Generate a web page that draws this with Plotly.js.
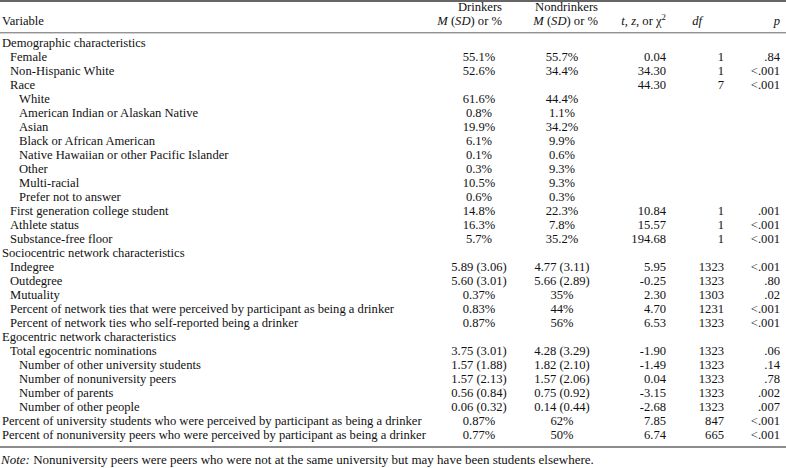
<!DOCTYPE html>
<html>
<head>
<meta charset="utf-8">
<script src="https://cdn.plot.ly/plotly-3.0.1.min.js"></script>
<style>
html,body{margin:0;padding:0;background:#fff;}
#chart{width:786px;height:468px;}
</style>
</head>
<body>
<div id="chart"></div>
<script>
// ---- Table data ----
var variables = [
  "Demographic characteristics",
  "Female",
  "Non-Hispanic White",
  "Race",
  "White",
  "American Indian or Alaskan Native",
  "Asian",
  "Black or African American",
  "Native Hawaiian or other Pacific Islander",
  "Other",
  "Multi-racial",
  "Prefer not to answer",
  "First generation college student",
  "Athlete status",
  "Substance-free floor",
  "Sociocentric network characteristics",
  "Indegree",
  "Outdegree",
  "Mutuality",
  "Percent of network ties that were perceived by participant as being a drinker",
  "Percent of network ties who self-reported being a drinker",
  "Egocentric network characteristics",
  "Total egocentric nominations",
  "Number of other university students",
  "Number of nonuniversity peers",
  "Number of parents",
  "Number of other people",
  "Percent of university students who were perceived by participant as being a drinker",
  "Percent of nonuniversity peers who were perceived by participant as being a drinker"
];
var levels = [0,1,1,1,2,2,2,2,2,2,2,2,1,1,1,0,1,1,1,1,1,0,1,2,2,2,2,0,0];
var drinkers = ["","55.1%","52.6%","","61.6%","0.8%","19.9%","6.1%","0.1%","0.3%","10.5%","0.6%",
  "14.8%","16.3%","5.7%","","5.89 (3.06)","5.60 (3.01)","0.37%","0.83%","0.87%","",
  "3.75 (3.01)","1.57 (1.88)","1.57 (2.13)","0.56 (0.84)","0.06 (0.32)","0.87%","0.77%"];
var nondrinkers = ["","55.7%","34.4%","","44.4%","1.1%","34.2%","9.9%","0.6%","9.3%","9.3%","0.3%",
  "22.3%","7.8%","35.2%","","4.77 (3.11)","5.66 (2.89)","35%","44%","56%","",
  "4.28 (3.29)","1.82 (2.10)","1.57 (2.06)","0.75 (0.92)","0.14 (0.44)","62%","50%"];
var stats = ["","0.04","34.30","44.30","","","","","","","","",
  "10.84","15.57","194.68","","5.95","-0.25","2.30","4.70","6.53","",
  "-1.90","-1.49","0.04","-3.15","-2.68","7.85","6.74"];
var dfs = ["","1","1","7","","","","","","","","",
  "1","1","1","","1323","1323","1303","1231","1323","",
  "1323","1323","1323","1323","1323","847","665"];
var pvals = ["",".84","<.001","<.001","","","","","","","","",
  ".001","<.001","<.001","","<.001",".80",".02","<.001","<.001","",
  ".06",".14",".78",".002",".007","<.001","<.001"];
var headers1 = ["Drinkers","Nondrinkers"];
var headers2 = ["Variable","<i>M</i> (<i>SD</i>) or %","<i>M</i> (<i>SD</i>) or %",
  "<i>t</i>, <i>z</i>, or χ<sup>2</sup>","<i>df</i>","<i>p</i>"];
var noteText = "<i>Note:</i> Nonuniversity peers were peers who were not at the same university but may have been students elsewhere.";

// ---- Layout helpers ----
var FONT = {family: "Liberation Serif, Times New Roman, serif", size: 12.6, color: "#111"};
var NOTEFONT = {family: "Liberation Serif, Times New Roman, serif", size: 13, color: "#111"};
var indent = [2, 10, 19];
var colX = {drink: 479, nondrink: 562, stat: 666, df: 724, p: 780};
var hdrX = {drink: 502, nondrink: 598};
function esc(s){ return s.replace(/</g, "&lt;"); }
var rows = variables.map(function(_, i){ return i; });

function textTrace(xs, ys, texts, pos, font){
  return {
    type: "scatter", mode: "text", x: xs, y: ys, text: texts,
    textposition: pos, textfont: font || FONT, hoverinfo: "skip",
    showlegend: false, cliponaxis: false
  };
}
function col(arr, x, pos){
  var xs = [], ys = [], ts = [];
  arr.forEach(function(v, i){ if (v !== "") { xs.push(x); ys.push(i); ts.push(esc(v)); } });
  return textTrace(xs, ys, ts, pos);
}

var traces = [];
traces.push(textTrace(levels.map(function(l){ return indent[l]; }), rows, variables, "middle right"));
traces.push(col(drinkers, colX.drink, "middle center"));
traces.push(col(nondrinkers, colX.nondrink, "middle center"));
traces.push(col(stats, colX.stat, "middle left"));
traces.push(col(dfs, colX.df, "middle left"));
traces.push(col(pvals, colX.p, "middle left"));

// header
var h1y = -2.57, h2y = -1.57;
traces.push(textTrace([hdrX.drink, hdrX.nondrink], [h1y, h1y], headers1, "middle left"));
traces.push(textTrace([indent[0]], [h2y], [headers2[0]], "middle right"));
traces.push(textTrace([hdrX.drink, hdrX.nondrink, colX.stat, colX.df - 22, colX.p],
  [h2y, h2y, h2y, h2y, h2y], headers2.slice(1), "middle left"));
// note
traces.push(textTrace([indent[0] - 1], [29.79], [noteText], "middle right", NOTEFONT));

var layout = {
  width: 786, height: 468,
  margin: {l: 0, r: 0, t: 0, b: 0, pad: 0},
  paper_bgcolor: "#fff", plot_bgcolor: "#fff",
  xaxis: {range: [0, 786], visible: false, fixedrange: true},
  yaxis: {range: [30.2857, -3.142857], visible: false, fixedrange: true},
  shapes: [
    {type: "line", xref: "paper", yref: "y", x0: 0, x1: 1, y0: -3.07, y1: -3.07, line: {color: "#333", width: 1.5}},
    {type: "line", xref: "paper", yref: "y", x0: 0, x1: 1, y0: -0.8, y1: -0.8, line: {color: "#666", width: 1}},
    {type: "line", xref: "paper", yref: "y", x0: 0, x1: 1, y0: 28.79, y1: 28.79, line: {color: "#666", width: 1.5}}
  ]
};

Plotly.newPlot("chart", traces, layout, {staticPlot: true, displayModeBar: false});
</script>
</body>
</html>
